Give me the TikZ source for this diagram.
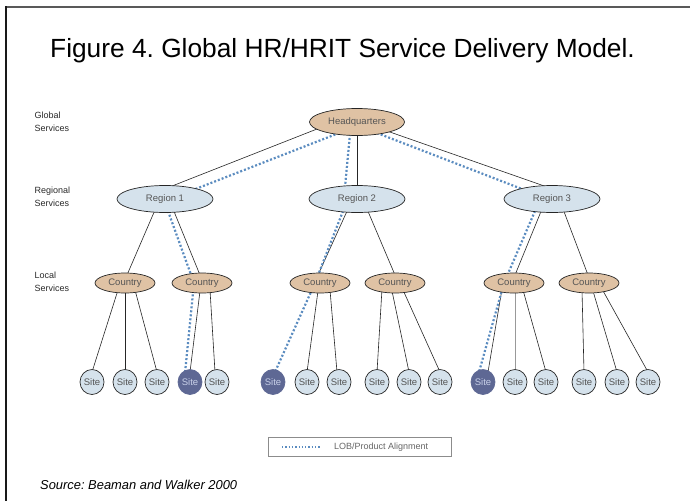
\documentclass[tikz,border=0pt]{standalone}
\usepackage{fontspec}
\setmainfont{Liberation Sans}
\usetikzlibrary{shapes.geometric,backgrounds}
\definecolor{tanfill}{HTML}{DFC2A4}
\definecolor{bluefill}{HTML}{D5E2EC}
\definecolor{darksitefill}{HTML}{5E6894}
\definecolor{darksitetext}{HTML}{C8D0E8}
\definecolor{lobblue}{HTML}{5B8CC0}
\definecolor{nodetext}{HTML}{555555}
\definecolor{labeltext}{HTML}{2A2A2A}
\frenchspacing
\begin{document}
\begin{tikzpicture}[x=1pt,y=-1pt,
  nodebase/.style={ellipse, draw=black!85, line width=0.7pt, inner sep=0pt,
    text=nodetext, font=\fontsize{9.5}{10}\selectfont},
  hqbox/.style={nodebase, fill=tanfill, minimum width=95pt, minimum height=27pt},
  regbox/.style={nodebase, fill=bluefill, minimum width=96pt, minimum height=27pt},
  ctybox/.style={nodebase, fill=tanfill, minimum width=60pt, minimum height=20pt},
  sitebox/.style={nodebase, fill=bluefill, minimum width=24pt, minimum height=25pt},
  darksite/.style={sitebox, fill=darksitefill, draw=darksitefill, text=darksitetext},
  link/.style={draw=black!85, line width=0.6pt},
  graylink/.style={draw=black!40, line width=0.9pt},
  lob/.style={draw=lobblue, line width=2.2pt, dash pattern=on 2pt off 2pt},
  sidelabel/.style={anchor=west, align=left, text=labeltext,
    font=\fontsize{9}{12.5}\selectfont}
]
\useasboundingbox (0,0) rectangle (690,501);

% title and source
\node[anchor=base west, inner sep=0pt, font=\fontsize{26.3}{28}\selectfont] (title) at (50,57)
  {Figure 4. Global HR/HRIT Service Delivery Model.};
\node[anchor=base west, inner sep=0pt, font=\fontsize{12.9}{14}\selectfont\itshape] (source) at (40,489)
  {Source: Beaman and Walker 2000};

% side labels
\node[sidelabel] (lglobal) at (31,122) {Global\\Services};
\node[sidelabel] (lregional) at (31,197) {Regional\\Services};
\node[sidelabel] (llocal) at (31,282) {Local\\Services};

% hierarchy nodes
\node[hqbox] (hq) at (357,122) {Headquarters};
\node[regbox] (r1) at (165,199) {Region 1};
\node[regbox] (r2) at (357,199) {Region 2};
\node[regbox] (r3) at (552,199) {Region 3};
\node[ctybox] (c1) at (125,283) {Country};
\node[ctybox] (c2) at (202,283) {Country};
\node[ctybox] (c3) at (320,283) {Country};
\node[ctybox] (c4) at (395,283) {Country};
\node[ctybox] (c5) at (514,283) {Country};
\node[ctybox] (c6) at (589,283) {Country};
\node[sitebox] (s1) at (92,382) {Site};
\node[sitebox] (s2) at (125,382) {Site};
\node[sitebox] (s3) at (157,382) {Site};
\node[darksite] (s4) at (190,382) {Site};
\node[sitebox] (s5) at (217,382) {Site};
\node[darksite] (s6) at (273,382) {Site};
\node[sitebox] (s7) at (307,382) {Site};
\node[sitebox] (s8) at (339,382) {Site};
\node[sitebox] (s9) at (377,382) {Site};
\node[sitebox] (s10) at (409,382) {Site};
\node[sitebox] (s11) at (440,382) {Site};
\node[darksite] (s12) at (483,382) {Site};
\node[sitebox] (s13) at (515,382) {Site};
\node[sitebox] (s14) at (546,382) {Site};
\node[sitebox] (s15) at (584,382) {Site};
\node[sitebox] (s16) at (617,382) {Site};
\node[sitebox] (s17) at (648,382) {Site};

% legend
\node[draw=black!45, line width=0.7pt, minimum width=183pt, minimum height=19pt,
  inner sep=0pt, anchor=north west] (legend) at (268,437) {};
\node[anchor=west, inner sep=0pt, text=black!60, font=\fontsize{9}{10}\selectfont] (legtext)
  at ([shift={(66,0)}]legend.west) {LOB/Product Alignment};
\coordinate (legA) at ([shift={(14,0)}]legend.west);
\coordinate (legB) at ([shift={(52,0)}]legend.west);
\draw[draw=lobblue, line width=1.3pt, dash pattern=on 1.3pt off 2pt] (legA) -- (legB);

\begin{pgfonlayer}{background}
  \fill[white] (0,0) rectangle (690,501);
  % frame
  \coordinate (frameTL) at (6,7);
  \coordinate (frameTR) at (690,7);
  \coordinate (frameBL) at (6,501);
  \draw[draw=black!65, line width=2.5pt] (frameTL) -- (frameTR);
  \draw[draw=black!90, line width=1.5pt] ([shift={(0,-1)}]frameTL) -- (frameBL);

  % solid links HQ -> regions
  \draw[link] ([shift={(-40,7)}]hq.center) -- ([shift={(2,-11)}]r1.center);
  \draw[link] ([shift={(0,10)}]hq.center) -- ([shift={(0,-10)}]r2.center);
  \draw[link] ([shift={(30,9)}]hq.center) -- ([shift={(-2,-11)}]r3.center);
  % regions -> countries
  \draw[link] ([shift={(-10,11)}]r1.center) -- ([shift={(2,-8)}]c1.center);
  \draw[link] ([shift={(8,10)}]r1.center) -- ([shift={(-2,-8)}]c2.center);
  \draw[link] ([shift={(-9,10)}]r2.center) -- ([shift={(-2,-8)}]c3.center);
  \draw[link] ([shift={(10,10)}]r2.center) -- ([shift={(0,-8)}]c4.center);
  \draw[link] ([shift={(-10,10)}]r3.center) -- ([shift={(1,-8)}]c5.center);
  \draw[link] ([shift={(11,10)}]r3.center) -- ([shift={(-1,-8)}]c6.center);
  % countries -> sites
  \draw[link] ([shift={(-7,7)}]c1.center) -- ([shift={(0,-10)}]s1.center);
  \draw[link] ([shift={(0,8)}]c1.center) -- ([shift={(0,-10)}]s2.center);
  \draw[link] ([shift={(10,7)}]c1.center) -- ([shift={(0,-10)}]s3.center);
  \draw[link] ([shift={(-2,8)}]c2.center) -- ([shift={(0,-10)}]s4.center);
  \draw[link] ([shift={(8,7)}]c2.center) -- ([shift={(-2,-10)}]s5.center);
  \draw[link] ([shift={(-2,8)}]c3.center) -- ([shift={(0,-10)}]s7.center);
  \draw[link] ([shift={(10,7)}]c3.center) -- ([shift={(-2,-10)}]s8.center);
  \draw[link] ([shift={(-13,6)}]c4.center) -- ([shift={(0,-10)}]s9.center);
  \draw[link] ([shift={(-3,8)}]c4.center) -- ([shift={(0,-10)}]s10.center);
  \draw[link] ([shift={(8,7)}]c4.center) -- ([shift={(0,-10)}]s11.center);
  \draw[link] ([shift={(-12,6)}]c5.center) -- ([shift={(5,-10)}]s12.center);
  \draw[graylink] ([shift={(1,9)}]c5.center) -- ([shift={(0,-10)}]s13.center);
  \draw[link] ([shift={(9,7)}]c5.center) -- ([shift={(0,-10)}]s14.center);
  \draw[link] ([shift={(-7,7)}]c6.center) -- ([shift={(0,-10)}]s15.center);
  \draw[link] ([shift={(4,8)}]c6.center) -- ([shift={(0,-10)}]s16.center);
  \draw[link] ([shift={(13,6)}]c6.center) -- ([shift={(0,-10)}]s17.center);

  % LOB / product alignment
  \draw[lob] ([shift={(-18,11)}]hq.center) -- ([shift={(28,-9)}]r1.center);
  \draw[lob] ([shift={(-7,12)}]hq.center) -- ([shift={(-12,-12)}]r2.center);
  \draw[lob] ([shift={(20,11)}]hq.center) -- ([shift={(-30,-10)}]r3.center);
  \draw[lob] ([shift={(3,12)}]r1.center) -- ([shift={(-8,0)}]c2.center) -- ([shift={(-5,-9)}]s4.center);
  \draw[lob] ([shift={(-14,12)}]r2.center) -- ([shift={(-5,0)}]c3.center) -- ([shift={(2,-10)}]s6.center);
  \draw[lob] ([shift={(-17,12)}]r3.center) -- ([shift={(-10,0)}]c5.center) -- ([shift={(-4,-10)}]s12.center);
\end{pgfonlayer}
\end{tikzpicture}
\end{document}
